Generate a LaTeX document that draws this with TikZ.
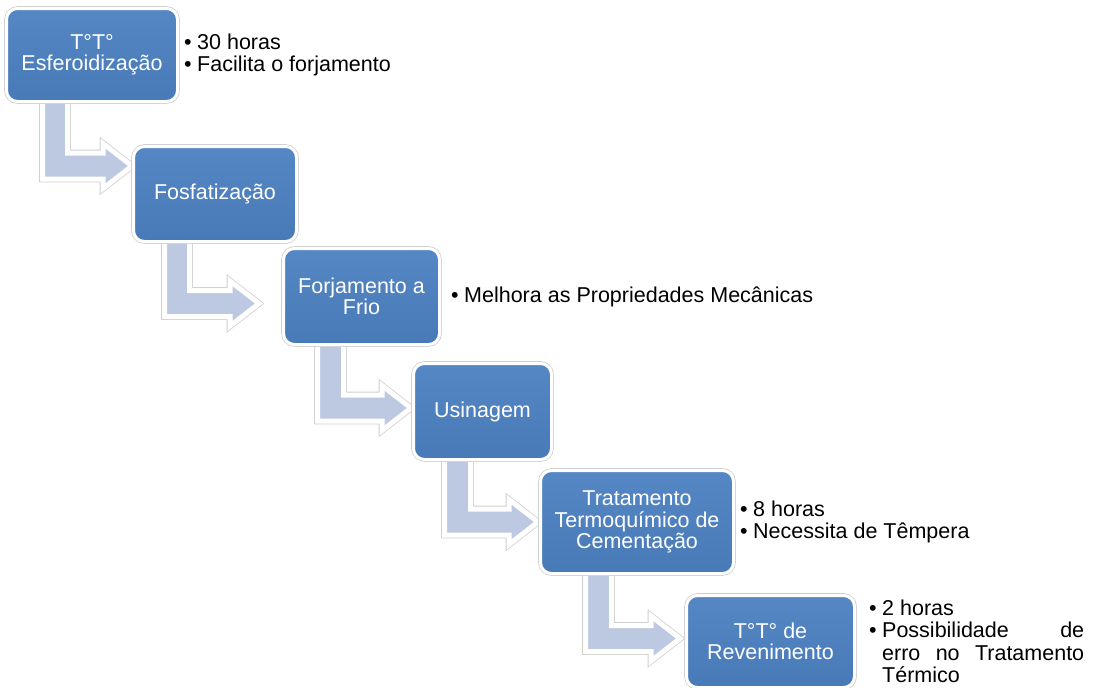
\documentclass[tikz,border=0pt]{standalone}
\usepackage{fontspec}
\setmainfont{Liberation Sans}
\usetikzlibrary{calc}

\definecolor{boxtop}{RGB}{86,135,197}
\definecolor{boxbot}{RGB}{72,122,184}
\definecolor{arrowcol}{RGB}{189,201,225}
\definecolor{rimshade}{RGB}{208,208,208}

\tikzset{
  stepbox/.style={rectangle, rounded corners=11pt, top color=boxtop, bottom color=boxbot,
    draw=white, line width=3pt, preaction={draw=rimshade, line width=4.6pt},
    text=white, align=center, inner sep=2pt,
    font=\fontsize{21.5}{21.5}\selectfont},
  notes/.style={anchor=west, align=left, inner sep=0pt, text=black,
    font=\fontsize{21.5}{22.5}\selectfont},
  bentarrowstyle/.style={fill=arrowcol, draw=white, line width=5pt,
    preaction={draw=rimshade, line width=6.6pt}}
}

% bent block arrow: source box, stem left x, stem width, bar centre y, tip x
\newcommand\bentarrow[5]{%
  \path ($(#1.south -| #2,0)+(0,-8)$) coordinate (stemtop);
  \path[bentarrowstyle] (stemtop) -- (#2,{#4+13}) -- ({#5-29},{#4+13})
    -- ({#5-29},{#4+22.5}) -- (#5,#4) -- ({#5-29},{#4-22.5}) -- ({#5-29},{#4-13})
    -- ({#2+#3},{#4-13}) -- ($(stemtop)+(#3,0)$) -- cycle;
}
\newcommand\bul{\makebox[13pt][l]{•}}

\begin{document}
\begin{tikzpicture}[x=1pt,y=-1pt]
\useasboundingbox (0,0) rectangle (1093,688);

% process steps (placed first so the arrows can refer to them)
\path
  (92,55)      node[minimum width=171pt, minimum height=93pt]  (b1) {}
  (215,194)    node[minimum width=163pt, minimum height=95pt]  (b2) {}
  (361.5,296.5) node[minimum width=156pt, minimum height=96pt] (b3) {}
  (482.5,411.5) node[minimum width=138pt, minimum height=96pt] (b4) {}
  (637,522)    node[minimum width=193pt, minimum height=103pt] (b5) {}
  (770.5,641.5) node[minimum width=168pt, minimum height=92pt] (b6) {};

% connecting bent arrows
\bentarrow{b1}{42.5}{25}{166}{132}
\bentarrow{b2}{164.5}{25}{303.5}{259}
\bentarrow{b3}{317.5}{26}{408}{411}
\bentarrow{b4}{444.5}{26}{522}{538}
\bentarrow{b5}{585.5}{26}{638.5}{680}

% boxes drawn over the arrow stems
\node[stepbox, minimum width=171pt, minimum height=93pt]  (s1) at (b1) {T°T°\\Esferoidização};
\node[stepbox, minimum width=163pt, minimum height=95pt]  (s2) at (b2) {Fosfatização};
\node[stepbox, minimum width=156pt, minimum height=96pt]  (s3) at (b3) {Forjamento a\\Frio};
\node[stepbox, minimum width=138pt, minimum height=96pt]  (s4) at (b4) {Usinagem};
\node[stepbox, minimum width=193pt, minimum height=103pt] (s5) at (b5) {Tratamento\\Termoquímico de\\Cementação};
\node[stepbox, minimum width=168pt, minimum height=92pt]  (s6) at (b6) {T°T° de\\Revenimento};

% side notes
\node[notes] (n1) at (s1 -| 184,0) {\bul 30 horas\\\bul Facilita o forjamento};
\node[notes] (n3) at (s3 -| 451,0) {\bul Melhora as Propriedades Mecânicas};
\node[notes] (n5) at (s5 -| 740,0) {\bul 8 horas\\\bul Necessita de Têmpera};
\node[notes] (n6) at (s6 -| 869,0) {\bul 2 horas\\
  \bul\makebox[202pt][s]{Possibilidade de}\\
  \hspace*{13pt}\makebox[202pt][s]{erro no Tratamento}\\
  \hspace*{13pt}Térmico};
\end{tikzpicture}
\end{document}
